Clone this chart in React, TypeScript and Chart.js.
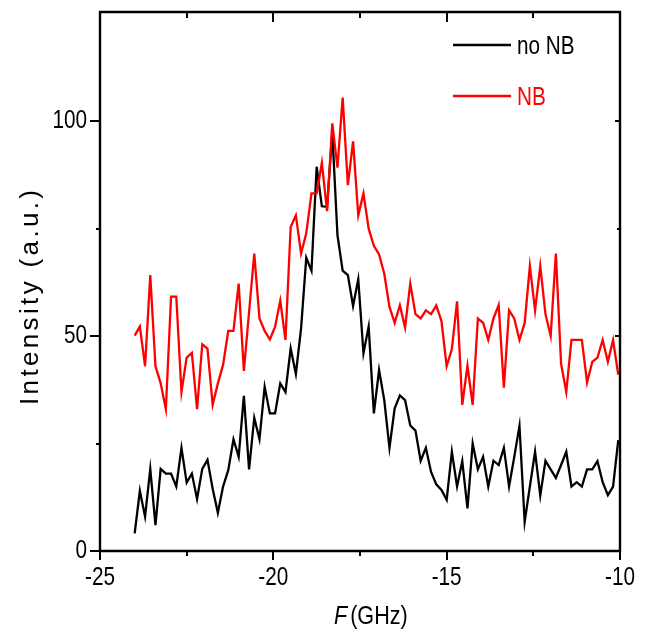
import React, { useEffect, useRef } from 'react';
import { Chart, registerables } from 'chart.js';

Chart.register(...registerables);

// Frequency detuning F (GHz)
const frequency = [
  -24.0, -23.85, -23.7, -23.55, -23.4, -23.25, -23.1, -22.95, -22.8, -22.65,
  -22.5, -22.35, -22.2, -22.05, -21.9, -21.75, -21.6, -21.45, -21.3, -21.15,
  -21.0, -20.85, -20.7, -20.55, -20.4, -20.25, -20.1, -19.95, -19.8, -19.65,
  -19.5, -19.35, -19.2, -19.05, -18.9, -18.75, -18.6, -18.45, -18.3, -18.15,
  -18.0, -17.85, -17.7, -17.55, -17.4, -17.25, -17.1, -16.95, -16.8, -16.65,
  -16.5, -16.35, -16.2, -16.05, -15.9, -15.75, -15.6, -15.45, -15.3, -15.15,
  -15.0, -14.85, -14.7, -14.55, -14.4, -14.25, -14.1, -13.95, -13.8, -13.65,
  -13.5, -13.35, -13.2, -13.05, -12.9, -12.75, -12.6, -12.45, -12.3, -12.15,
  -12.0, -11.85, -11.7, -11.55, -11.4, -11.25, -11.1, -10.95, -10.8, -10.65,
  -10.5, -10.35, -10.2, -10.05,
];

// Intensity without NB (black)
const intensityNoNB = [
  4.1, 14, 8, 19.1, 6, 19.1, 18, 18, 15, 24,
  15.9, 18, 12.1, 19.1, 21.2, 14.5, 8.9, 15, 18.8, 26,
  21.9, 36.1, 19, 31, 26, 38.2, 32, 32, 39, 37,
  47.1, 41.2, 51.8, 68.2, 65.2, 89.4, 80.2, 80.1, 97.5, 73.5,
  65.2, 64.2, 57, 63.2, 46, 52.2, 32, 42.1, 35.1, 24,
  33.2, 36.2, 35.1, 29.2, 28, 21, 24, 18.4, 15.5, 14.2,
  11.9, 23.1, 15, 20.9, 9.9, 25, 19, 21.9, 15, 21,
  20, 24, 15, 21.9, 29.1, 6.8, 15, 23.1, 12.9, 21,
  19, 17, 20, 23.1, 15, 16, 15, 19, 19, 20.9,
  16, 13, 15, 25.8,
];

// Intensity with NB (red)
const intensityNB = [
  50.1, 52.2, 43, 64.2, 43, 39, 33, 59.2, 59.2, 37,
  45, 46.1, 33, 48.1, 47.1, 34, 39, 43.3, 51.2, 51.2,
  62.2, 41.9, 55.6, 69.2, 54.1, 51.2, 49.2, 52.2, 58.2, 49.1,
  75.4, 78.1, 69.2, 73.9, 83.2, 83.2, 90.3, 79.1, 99.5, 89.2,
  105.5, 85.1, 95.3, 78.1, 83.2, 75, 71, 69, 64.5, 56.8,
  53.1, 57.2, 52, 62.2, 55.1, 54.1, 56, 55.1, 57.1, 53.5,
  43, 47, 58.1, 34, 43.1, 34, 54.1, 53.1, 49.1, 54.1,
  57.2, 38, 56, 54.1, 49.1, 53, 66.3, 56, 66.3, 55.1,
  50, 69.2, 43.6, 37, 49.1, 49.1, 49.1, 39.2, 44, 45,
  49.1, 44, 49.1, 41,
];

const seriesLabels = ['no NB', 'NB'];
const seriesColors = ['#000000', '#ff0000'];

const xMajorTicks = [-25, -20, -15, -10];
const xTickLabels = ['-25', '-20', '-15', '-10'];
const xMinorTicks = [-22.5, -17.5, -12.5];
const yMajorTicks = [0, 50, 100];
const yTickLabels = ['0', '50', '100'];
const yMinorTicks = [25, 75];

const xTitleItalic = 'F';
const xTitleRest = '(GHz)';
const yTitle = 'Intensity (a.u.)';

const SANS = "'Liberation Sans', Arial, sans-serif";
const CONDENSE = 0.83;

function condensedText(ctx: any, text: string, x: number, y: number, align: 'left' | 'center' | 'right') {
  ctx.save();
  ctx.translate(x, y);
  ctx.scale(CONDENSE, 1);
  ctx.textAlign = align;
  ctx.textBaseline = 'middle';
  ctx.fillText(text, 0, 0);
  ctx.restore();
}

const framePlugin = {
  id: 'framePlugin',
  afterDraw(chart: any) {
    const { ctx, chartArea: a, scales } = chart;
    const xs = scales.x;
    const ys = scales.y;
    ctx.save();
    ctx.strokeStyle = '#000';
    ctx.lineWidth = 2.4;
    ctx.lineCap = 'square';
    ctx.beginPath();
    ctx.rect(a.left, a.top, a.right - a.left, a.bottom - a.top);
    ctx.stroke();
    ctx.lineCap = 'butt';
    ctx.lineWidth = 2;
    ctx.beginPath();
    xMajorTicks.forEach((v) => {
      const px = Math.round(xs.getPixelForValue(v));
      ctx.moveTo(px, a.bottom); ctx.lineTo(px, a.bottom + 9);
      ctx.moveTo(px, a.top); ctx.lineTo(px, a.top + 10);
    });
    xMinorTicks.forEach((v) => {
      const px = Math.round(xs.getPixelForValue(v));
      ctx.moveTo(px, a.bottom); ctx.lineTo(px, a.bottom + 5);
      ctx.moveTo(px, a.top); ctx.lineTo(px, a.top + 6);
    });
    yMajorTicks.forEach((v) => {
      const py = Math.round(ys.getPixelForValue(v));
      ctx.moveTo(a.left, py); ctx.lineTo(a.left - 10, py);
      ctx.moveTo(a.right, py); ctx.lineTo(a.right - 5, py);
    });
    yMinorTicks.forEach((v) => {
      const py = Math.round(ys.getPixelForValue(v));
      ctx.moveTo(a.left, py); ctx.lineTo(a.left - 4, py);
      ctx.moveTo(a.right, py); ctx.lineTo(a.right - 3, py);
    });
    ctx.stroke();

    // tick labels
    ctx.fillStyle = '#000';
    ctx.font = `25px ${SANS}`;
    xMajorTicks.forEach((v, i) => {
      condensedText(ctx, xTickLabels[i], xs.getPixelForValue(v), 578, 'center');
    });
    yMajorTicks.forEach((v, i) => {
      condensedText(ctx, yTickLabels[i], a.left - 13, ys.getPixelForValue(v), 'right');
    });

    // legend
    const legendY = [47, 98];
    seriesLabels.forEach((label, i) => {
      ctx.strokeStyle = seriesColors[i];
      ctx.lineWidth = 2.4;
      ctx.beginPath();
      ctx.moveTo(453, legendY[i] - 2);
      ctx.lineTo(511, legendY[i] - 2);
      ctx.stroke();
      ctx.fillStyle = seriesColors[i];
      ctx.font = `25px ${SANS}`;
      condensedText(ctx, label, 517, legendY[i], 'left');
    });

    // y title
    ctx.fillStyle = '#000';
    ctx.save();
    ctx.translate(31, 405);
    ctx.rotate(-Math.PI / 2);
    ctx.font = `26px ${SANS}`;
    (ctx as any).letterSpacing = '0px';
    const w0 = ctx.measureText(yTitle).width;
    const ls = Math.max(0, (215 - w0) / (yTitle.length - 1));
    (ctx as any).letterSpacing = `${ls}px`;
    ctx.textAlign = 'left';
    ctx.textBaseline = 'middle';
    ctx.fillText(yTitle, 0, 0);
    (ctx as any).letterSpacing = '0px';
    ctx.restore();

    // x title
    ctx.fillStyle = '#000';
    ctx.font = `italic 26px ${SANS}`;
    const wF = ctx.measureText(xTitleItalic).width * CONDENSE;
    condensedText(ctx, xTitleItalic, 334, 617, 'left');
    ctx.font = `26px ${SANS}`;
    condensedText(ctx, xTitleRest, 334 + wF + 3, 617, 'left');
    ctx.restore();
  },
};

const zeroPad = (s: any) => {
  s.paddingTop = 0;
  s.paddingBottom = 0;
  s.paddingLeft = 0;
  s.paddingRight = 0;
};

export default function App() {
  const canvasRef = useRef<HTMLCanvasElement | null>(null);

  useEffect(() => {
    const canvas = canvasRef.current;
    if (!canvas) return;
    const chart = new Chart(canvas, {
      type: 'line',
      data: {
        datasets: [
          {
            label: seriesLabels[0],
            data: frequency.map((f, i) => ({ x: f, y: intensityNoNB[i] })),
            borderColor: seriesColors[0],
            backgroundColor: seriesColors[0],
            borderWidth: 2.3,
            pointRadius: 0,
            tension: 0,
            order: 1,
          },
          {
            label: seriesLabels[1],
            data: frequency.map((f, i) => ({ x: f, y: intensityNB[i] })),
            borderColor: seriesColors[1],
            backgroundColor: seriesColors[1],
            borderWidth: 2.3,
            pointRadius: 0,
            tension: 0,
            order: 0,
          },
        ],
      },
      options: {
        animation: false,
        responsive: false,
        layout: { padding: { top: 12, right: 26, left: 0, bottom: 0 } },
        plugins: { legend: { display: false }, tooltip: { enabled: false } },
        scales: {
          x: {
            type: 'linear',
            position: 'bottom',
            min: -25,
            max: -10,
            afterFit: (s: any) => { s.height = 84; zeroPad(s); },
            grid: { display: false, drawTicks: false },
            border: { display: false },
            ticks: { display: false, stepSize: 5 },
          },
          y: {
            type: 'linear',
            min: 0,
            max: 125.4,
            afterFit: (s: any) => { s.width = 100; zeroPad(s); },
            grid: { display: false, drawTicks: false },
            border: { display: false },
            ticks: { display: false, stepSize: 25 },
          },
        },
      },
      plugins: [framePlugin],
    });
    return () => chart.destroy();
  }, []);

  return (
    <div style={{ position: 'absolute', left: 0, top: 0, width: 646, height: 635, background: '#fff' }}>
      <canvas ref={canvasRef} width={646} height={635} style={{ display: 'block', width: 646, height: 635 }} />
    </div>
  );
}
